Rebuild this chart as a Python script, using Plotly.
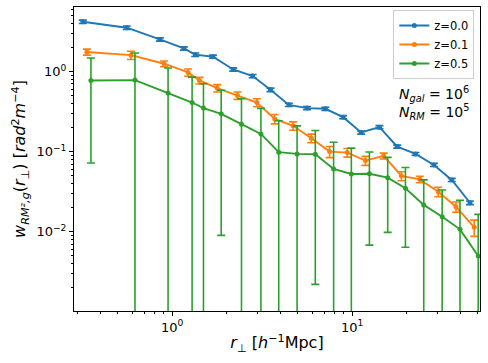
import plotly.graph_objects as go

# ---- data ----
r_z00 = [0.319, 0.560, 0.855, 1.163, 1.345, 1.687, 2.187, 2.804, 3.523, 4.455,
         5.625, 7.11, 8.92, 11.24, 14.20, 17.82, 22.53, 28.51, 35.82, 45.23]
w_z00 = [4.18, 3.52, 2.51, 1.94, 1.62, 1.53, 1.06, 0.876, 0.590, 0.383,
         0.349, 0.342, 0.269, 0.173, 0.202, 0.1155, 0.0936, 0.0682, 0.0443, 0.0230]
e_z00 = [0.20, 0.17, 0.12, 0.09, 0.08, 0.07, 0.05, 0.04, 0.03, 0.018,
         0.016, 0.015, 0.012, 0.008, 0.009, 0.005, 0.004, 0.003, 0.002, 0.0012]

r_z01 = [0.336, 0.591, 0.903, 1.227, 1.419, 1.780, 2.309, 2.960, 3.718, 4.703,
         5.938, 7.505, 9.41, 11.87, 14.99, 18.81, 23.78, 30.10, 37.81, 47.74]
w_z01 = [1.75, 1.60, 1.25, 0.972, 0.772, 0.620, 0.501, 0.410, 0.256, 0.210,
         0.147, 0.100, 0.0972, 0.0772, 0.0883, 0.0497, 0.0450, 0.0316, 0.0205, 0.01135]
e_z01 = [0.15, 0.19, 0.10, 0.10, 0.073, 0.065, 0.053, 0.047, 0.034, 0.025,
         0.018, 0.016, 0.012, 0.010, 0.0075, 0.0064, 0.0042, 0.0043, 0.003, 0.0026]

r_z05 = [0.354, 0.622, 0.950, 1.292, 1.494, 1.874, 2.430, 3.116, 3.914, 4.950,
         6.250, 7.900, 9.91, 12.49, 15.78, 19.80, 25.03, 31.68, 39.80, 50.25]
w_z05 = [0.772, 0.781, 0.537, 0.410, 0.349, 0.296, 0.220, 0.166, 0.0983, 0.0936,
         0.0927, 0.0608, 0.0526, 0.0528, 0.0473, 0.0349, 0.0216, 0.0154, 0.0107, 0.00497]
e_z05 = [0.70, 0.92, 0.57, 0.44, 0.355, 0.287, 0.236, 0.18, 0.144, 0.116,
         0.0905, 0.070, 0.058, 0.046, 0.0375, 0.0285, 0.0227, 0.0178, 0.014, 0.0115]

series_names = ["z=0.0", "z=0.1", "z=0.5"]
x_tick_vals = [1, 10]
x_tick_text = ["10<sup>0</sup>", "10<sup>1</sup>"]
y_tick_vals = [0.01, 0.1, 1]
y_tick_text = ["10<sup>\u22122</sup>", "10<sup>\u22121</sup>", "10<sup>0</sup>"]

colors = ["#1f77b4", "#ff7f0e", "#2ca02c"]
FONT = "DejaVu Sans"

fig = go.Figure()
for name, r, w, e, c in zip(series_names, [r_z00, r_z01, r_z05],
                            [w_z00, w_z01, w_z05], [e_z00, e_z01, e_z05], colors):
    fig.add_trace(go.Scatter(
        x=r, y=w, name=name, mode="lines+markers",
        line=dict(color=c, width=1.9),
        marker=dict(color=c, size=5),
        error_y=dict(type="data", array=e, visible=True, color=c,
                     thickness=1.6, width=4),
    ))

x_minor = [k * 10 ** n for n in (-1, 0, 1) for k in range(2, 10)]
y_minor = [k * 10 ** n for n in (-3, -2, -1, 0) for k in range(2, 10)]

axis_common = dict(
    showline=True, linecolor="black", linewidth=1, mirror=True,
    showgrid=False, zeroline=False, ticks="outside", ticklen=4,
    tickwidth=1, tickcolor="black",
    tickfont=dict(family=FONT, size=13, color="black"),
)

fig.update_xaxes(
    type="log", range=[-0.545, 1.711],
    tickmode="array", tickvals=x_tick_vals, ticktext=x_tick_text,
    minor=dict(tickmode="array", tickvals=x_minor, ticks="outside",
               ticklen=2, tickwidth=0.8, tickcolor="black", showgrid=False),
    title=dict(text="<i>r</i><sub>\u22a5</sub> [<i>h</i><sup>\u22121</sup>Mpc]",
               font=dict(family=FONT, size=16, color="black"), standoff=3),
    **axis_common,
)
fig.update_yaxes(
    type="log", range=[-2.99, 0.805],
    tickmode="array", tickvals=y_tick_vals, ticktext=y_tick_text,
    minor=dict(tickmode="array", tickvals=y_minor, ticks="outside",
               ticklen=2, tickwidth=0.8, tickcolor="black", showgrid=False),
    title=dict(text="<i>w</i><sub><i>RM\u00b2,g</i></sub>(<i>r</i><sub>\u22a5</sub>) "
                    "[<i>rad</i><sup>2</sup><i>m</i><sup>\u22124</sup>]",
               font=dict(family=FONT, size=16, color="black"), standoff=6),
    **axis_common,
)

fig.add_annotation(x=0.979, y=0.714, xref="paper", yref="paper",
                   xanchor="right", yanchor="middle", showarrow=False,
                   text="<i>N</i><sub><i>gal</i></sub> = 10<sup>6</sup>",
                   font=dict(family=FONT, size=14, color="black"))
fig.add_annotation(x=0.979, y=0.656, xref="paper", yref="paper",
                   xanchor="right", yanchor="middle", showarrow=False,
                   text="<i>N</i><sub><i>RM</i></sub> = 10<sup>5</sup>",
                   font=dict(family=FONT, size=14, color="black"))

fig.update_layout(
    width=488, height=363,
    margin=dict(l=74, r=8, t=7, b=52, autoexpand=False),
    paper_bgcolor="white", plot_bgcolor="white",
    font=dict(family=FONT, color="black"),
    legend=dict(x=0.986, y=0.99, xanchor="right", yanchor="top",
                bgcolor="rgba(255,255,255,0.8)", bordercolor="#cccccc",
                borderwidth=1, font=dict(family=FONT, size=11.5, color="black"),
                itemwidth=30, tracegroupgap=0),
    showlegend=True,
)

fig.write_html("out.html",
               config={"displayModeBar": False},
               post_script="document.body.style.margin='0px';"
                           "document.body.style.overflow='hidden';")
